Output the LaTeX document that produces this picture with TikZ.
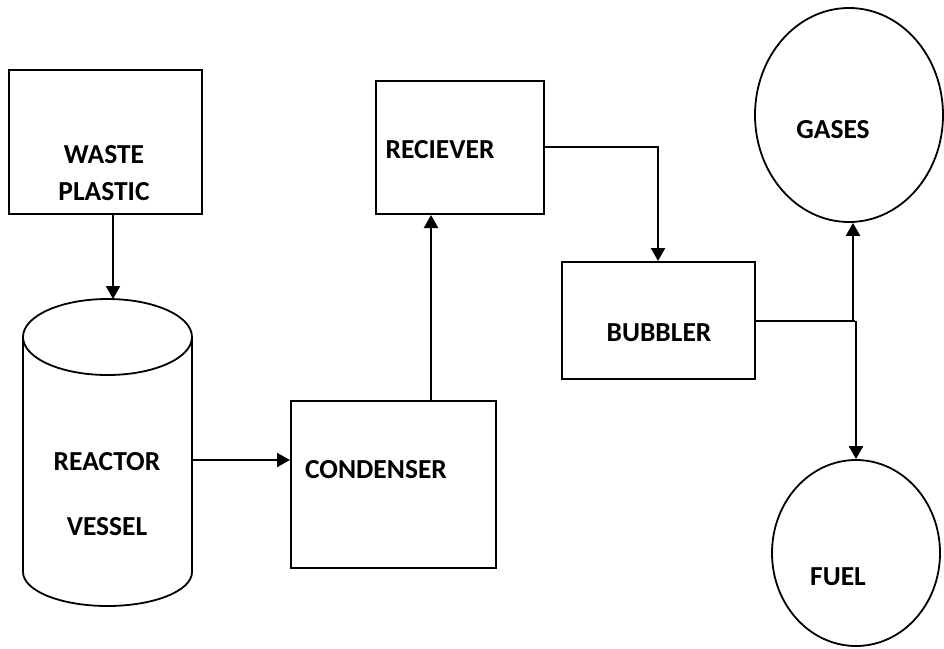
\documentclass[tikz,border=0pt]{standalone}
\usepackage{fontspec}
\setmainfont{Carlito}
\usetikzlibrary{shapes.geometric,arrows.meta}
\tikzset{
  box/.style={draw, rectangle, inner sep=0pt, line width=2pt},
  circ/.style={draw, ellipse, inner sep=0pt, line width=1.8pt},
  lbl/.style={inner sep=0pt, text height=17.5pt, text depth=0pt, font=\fontsize{27.5}{32}\selectfont\bfseries},
  arr/.style={line width=2.2pt, -{Triangle[length=13pt,width=14pt]}},
  conn/.style={line width=2.2pt},
}
\begin{document}
\begin{tikzpicture}[x=1pt,y=-1pt]
\useasboundingbox (0,0) rectangle (944,648);
% waste plastic
\node[box, minimum width=193pt, minimum height=144pt] (waste) at (105.5,142) {};
\node[lbl] (wasteA) at (104,155) {WASTE};
\node[lbl] (wasteB) at (104,192) {PLASTIC};
% reactor vessel (cylinder)
\node[inner sep=0pt, minimum width=169pt, minimum height=307pt] (reactor) at (107.5,452.5) {};
\draw[line width=1.8pt] (107.5,337) ellipse [x radius=84.5, y radius=38];
\draw[line width=1.8pt] (23,337) -- (23,572) arc[start angle=180, end angle=0, x radius=84.5, y radius=34] -- (192,337);
\node[lbl] (reactA) at (107,462) {REACTOR};
\node[lbl] (reactB) at (107,527) {VESSEL};
% condenser
\node[box, minimum width=205pt, minimum height=167pt] (cond) at (393.5,484.5) {};
\node[lbl] (condT) at (376,470) {CONDENSER};
% receiver
\node[box, minimum width=168pt, minimum height=133pt] (recv) at (460,147.5) {};
\node[lbl] (recvT) at (440,150) {RECIEVER};
% bubbler
\node[box, minimum width=193pt, minimum height=117pt] (bub) at (658.5,320.5) {};
\node[lbl] (bubT) at (659,333) {BUBBLER};
% gases and fuel
\node[circ, minimum width=188pt, minimum height=214pt] (gases) at (849,115) {};
\node[lbl] (gasT) at (833,130) {GASES};
\node[circ, minimum width=168pt, minimum height=186pt] (fuel) at (856,553) {};
\node[lbl] (fuelT) at (838,577) {FUEL};
% connectors
\coordinate (rtop) at (113,299);
\draw[arr] (rtop |- waste.south) -- (rtop);
\coordinate (rout) at (192,460);
\draw[arr] (rout) -- (rout -| cond.west);
\coordinate (cup) at (431,0);
\draw[arr] (cup |- cond.north) -- (cup |- recv.south);
\coordinate (rr) at (544,147);
\coordinate (bt) at (658,0);
\draw[arr] (rr) -- (bt |- rr) -- (bt |- bub.north);
\coordinate (bo) at (755,321);
\coordinate (j) at (855,321);
\draw[conn] (bo) -- (j);
\coordinate (gx) at (853,0);
\coordinate (fx) at (856,0);
\draw[arr] (gx |- j) -- (gx |- gases.south);
\draw[arr] (fx |- j) -- (fx |- fuel.north);
\end{tikzpicture}
\end{document}
